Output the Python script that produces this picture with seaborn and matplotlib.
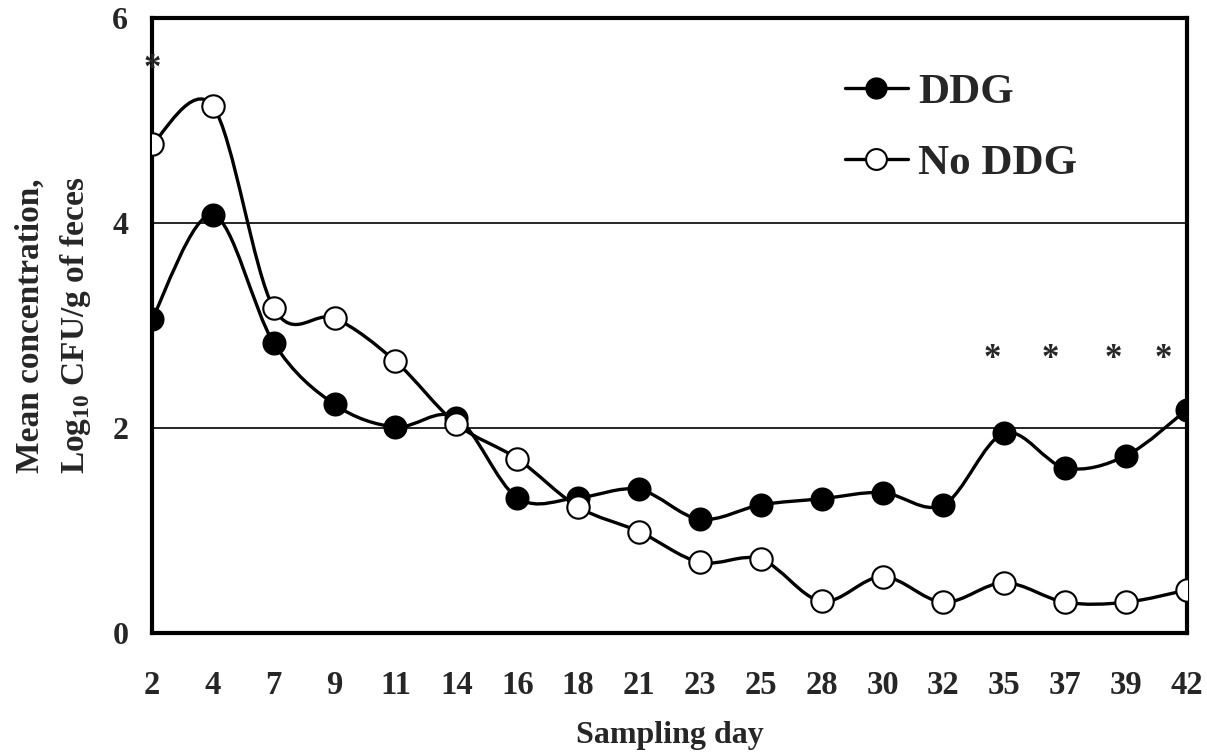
import numpy as np
import pandas as pd
import matplotlib
matplotlib.use("agg")
import matplotlib.pyplot as plt
from matplotlib.path import Path
from matplotlib.patches import PathPatch
from matplotlib.lines import Line2D
import seaborn as sns

# sampling days (categorical axis) and mean log10 counts
days = [2, 4, 7, 9, 11, 14, 16, 18, 21, 23, 25, 28, 30, 32, 35, 37, 39, 42]
ddg = [3.06, 4.08, 2.83, 2.23, 2.01, 2.10, 1.32, 1.32, 1.40, 1.11, 1.25,
       1.31, 1.37, 1.25, 1.95, 1.61, 1.73, 2.18]
no_ddg = [4.77, 5.14, 3.17, 3.07, 2.65, 2.04, 1.70, 1.23, 0.99, 0.69, 0.72,
          0.31, 0.55, 0.30, 0.49, 0.30, 0.30, 0.42]

# significance stars (category position, height)
star_x = [0.0, 13.81, 14.75, 15.79, 16.61]
star_y = [5.50, 2.67, 2.67, 2.67, 2.67]

sns.set_style("white")
plt.rcParams["font.family"] = ["Liberation Serif", "DejaVu Serif"]
plt.rcParams["font.weight"] = "bold"
plt.rcParams["mathtext.fontset"] = "custom"
plt.rcParams["mathtext.rm"] = "Liberation Serif:bold"
plt.rcParams["mathtext.bf"] = "Liberation Serif:bold"

pos = np.arange(len(days))
df = pd.DataFrame({"pos": pos, "DDG": ddg, "No DDG": no_ddg})


def smooth_path(x, y):
    # Excel-style smoothed line: cubic bezier through every point
    pts = np.column_stack([x, y]).astype(float)
    n = len(pts)
    verts = [pts[0]]
    codes = [Path.MOVETO]
    for i in range(n - 1):
        p0 = pts[i - 1] if i > 0 else pts[i]
        p1 = pts[i]
        p2 = pts[i + 1]
        p3 = pts[i + 2] if i + 2 < n else pts[i + 1]
        c1 = p1 + (p2 - p0) / 6.0
        c2 = p2 - (p3 - p1) / 6.0
        verts += [c1, c2, p2]
        codes += [Path.CURVE4] * 3
    return Path(verts, codes)


fig, ax = plt.subplots(figsize=(12.07, 7.56), dpi=100)
fig.subplots_adjust(left=0.1259, right=0.9834, bottom=0.1627, top=0.9762)

for y in [2, 4]:
    ax.axhline(y, color="black", lw=1.2, zorder=1)

for col in ["DDG", "No DDG"]:
    patch = PathPatch(smooth_path(df["pos"], df[col]), facecolor="none",
                      edgecolor="black", lw=2.4, zorder=2)
    ax.add_patch(patch)

sns.scatterplot(data=df, x="pos", y="DDG", ax=ax, s=260, color="black",
                edgecolor="black", linewidth=1.2, zorder=3)
sns.scatterplot(data=df, x="pos", y="No DDG", ax=ax, s=260, color="white",
                edgecolor="black", linewidth=1.5, zorder=4)

for sx, sy in zip(star_x, star_y):
    ax.text(sx, sy, "*", ha="center", va="center", fontsize=25,
            fontweight="bold", zorder=5)

ax.set_xlim(0, len(days) - 1)
ax.set_ylim(0, 6)
ax.set_xticks(pos)
ax.set_xticklabels([str(d) for d in days])
ax.set_xticks(pos[::2], minor=True)
ax.tick_params(axis="x", which="major", length=0, pad=27, labelsize=23.5)
ax.tick_params(axis="x", which="minor", direction="in", length=8, width=2.5,
               color="black")
ax.set_yticks([0, 2, 4, 6])
ax.set_yticklabels(["0", "2", "4", "6"])
ax.tick_params(axis="y", length=0, pad=17, labelsize=23)

for sp in ax.spines.values():
    sp.set_visible(True)
    sp.set_color("black")
    sp.set_linewidth(3)

ax.set_xlabel("Sampling day", fontsize=23, fontweight="bold", labelpad=14)
ax.set_ylabel("Mean concentration,\nLog$_{10}$ CFU/g of feces", fontsize=24,
              fontweight="bold", labelpad=14, linespacing=1.45)

handles = [
    Line2D([], [], color="black", lw=2.4, marker="o", markersize=15,
           markerfacecolor="black", markeredgecolor="black"),
    Line2D([], [], color="black", lw=2.4, marker="o", markersize=15,
           markerfacecolor="white", markeredgecolor="black", markeredgewidth=1.5),
]
ax.legend(handles, ["DDG", "No DDG"], loc="upper left",
          bbox_to_anchor=(0.649, 0.945), frameon=False,
          handlelength=1.45, handletextpad=0.25, labelspacing=0.72,
          borderpad=0, prop={"weight": "bold", "size": 31})

fig.savefig("out.png", dpi=100)
